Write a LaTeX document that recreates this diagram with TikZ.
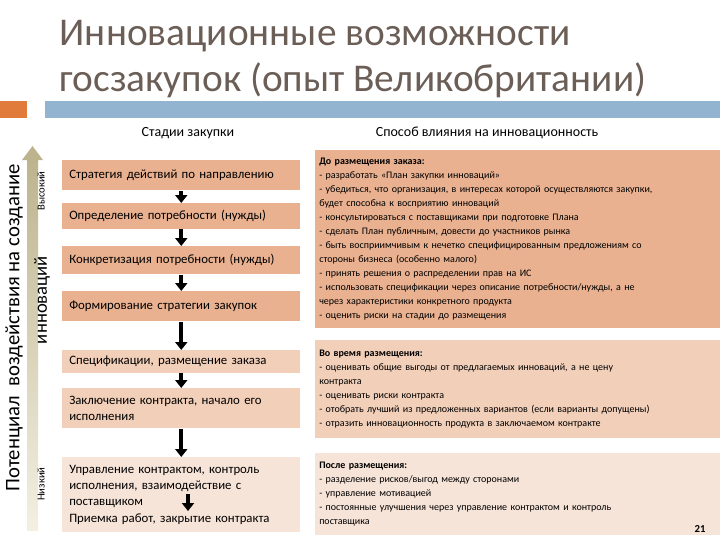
\documentclass[tikz,border=0pt]{standalone}
\usepackage{fontspec}
\setmainfont{Carlito}
\usetikzlibrary{arrows.meta,shadings}
\definecolor{ttl}{HTML}{6B5E56}
\definecolor{obar}{HTML}{E07B3C}
\definecolor{bbar}{HTML}{93B4D0}
\definecolor{c1}{HTML}{E9B190}
\definecolor{c2}{HTML}{F2CFB9}
\definecolor{c3}{HTML}{F7E4D8}
\definecolor{khaki}{HTML}{BDB48E}
\definecolor{khakil}{HTML}{F3F0E2}
\begin{document}
\begin{tikzpicture}[x=0.75pt,y=-0.75pt,
  stage/.style={anchor=north west,inner xsep=5pt,inner ysep=0pt,align=left,font=\fontsize{9.6}{12.2}\selectfont,minimum width=178.5pt,text width=168pt},
  info/.style={anchor=north west,inner xsep=3pt,inner ysep=3pt,align=left,font=\fontsize{7.5}{10.5}\selectfont,minimum width=303.75pt,text width=298pt},
  flow/.style={line width=3.2pt,-{Triangle[width=9pt,length=6pt]}}]
\useasboundingbox (0,0) rectangle (720,540);
\fill[white] (0,0) rectangle (720,540);
% title
\node[anchor=west,text=ttl,font=\fontsize{29.5}{32}\selectfont] (t1) at (55,36) {Инновационные возможности};
\node[anchor=west,text=ttl,font=\fontsize{29.5}{32}\selectfont] (t2) at (55,80) {госзакупок (опыт Великобритании)};
\fill[obar] (0,101) rectangle (27,118);
\fill[bbar] (45,101) rectangle (720,118);
\node[font=\fontsize{10.5}{12}\selectfont] (h1) at (188,133) {Стадии закупки};
\node[font=\fontsize{10.5}{12}\selectfont] (h2) at (487,133) {Способ влияния на инновационность};
% left axis arrow
\shade[bottom color=khakil,top color=khaki] (27,530) rectangle (38,160);
\fill[khaki] (22,160) -- (32.5,146) -- (43,160) -- cycle;
\node[rotate=90,font=\fontsize{15.5}{16}\selectfont] (pot) at (14,328) {Потенциал\ \ воздействия на создание};
\node[rotate=90,font=\fontsize{14}{15}\selectfont] (inn) at (42,300) {инноваций};
\node[rotate=90,font=\fontsize{8}{9}\selectfont] (hi) at (41,191) {Высокий};
\node[rotate=90,font=\fontsize{8}{9}\selectfont] (lo) at (41,484) {Низкий};
% stages
\node[stage,fill=c1,minimum height=22.5pt] (s1) at (62,160) {Стратегия действий по направлению};
\node[stage,fill=c1,minimum height=19pt] (s2) at (62,203) {Определение потребности (нужды)};
\node[stage,fill=c1,minimum height=21pt] (s3) at (62,246) {Конкретизация потребности (нужды)};
\node[stage,fill=c1,minimum height=22.5pt] (s4) at (62,291) {Формирование стратегии закупок};
\node[stage,fill=c2,minimum height=17pt] (s5) at (62,350) {Спецификации, размещение заказа};
\node[stage,fill=c2,minimum height=30pt] (s6) at (62,388) {Заключение контракта, начало его\\исполнения};
\node[stage,fill=c3,minimum height=56pt] (s7) at (62,457) {Управление контрактом, контроль\\исполнения, взаимодействие с\\поставщиком\\Приемка работ, закрытие контракта};
\draw[flow] (s1.south) -- (s2.north);
\draw[flow] (s2.south) -- (s3.north);
\draw[flow] (s3.south) -- (s4.north);
\draw[flow] (s4.south) -- (s5.north);
\draw[flow] (s5.south) -- (s6.north);
\draw[flow] (s6.south) -- (s7.north);
\coordinate (a7) at (188,494);
\coordinate (b7) at (188,511);
\draw[flow] (a7) -- (b7);
% info
\node[info,fill=c1,minimum height=133.5pt] (i1) at (315,150) {\textbf{До размещения заказа:}\\
- разработать «План закупки инноваций»\\
- убедиться, что организация, в интересах которой осуществляются закупки,\\будет способна к восприятию инноваций\\
- консультироваться с поставщиками при подготовке Плана\\
- сделать План публичным, довести до участников рынка\\
- быть восприимчивым к нечетко специфицированным предложениям со\\стороны бизнеса (особенно малого)\\
- принять решения о распределении прав на ИС\\
- использовать спецификации через описание потребности/нужды, а не\\через характеристики конкретного продукта\\
- оценить риски на стадии до размещения};
\node[info,fill=c2,minimum height=73pt] (i2) at (315,340) {\textbf{Во время размещения:}\\
- оценивать общие выгоды от предлагаемых инноваций, а не цену\\контракта\\
- оценивать риски контракта\\
- отобрать лучший из предложенных вариантов (если варианты допущены)\\
- отразить инновационность продукта в заключаемом контракте};
\node[info,fill=c3,minimum height=61pt] (i3) at (315,453) {\textbf{После размещения:}\\
- разделение рисков/выгод между сторонами\\
- управление мотивацией\\
- постоянные улучшения через управление контрактом и контроль\\поставщика};
\node[font=\bfseries\fontsize{8}{9}\selectfont] (pg) at (700,529) {21};
\end{tikzpicture}
\end{document}
